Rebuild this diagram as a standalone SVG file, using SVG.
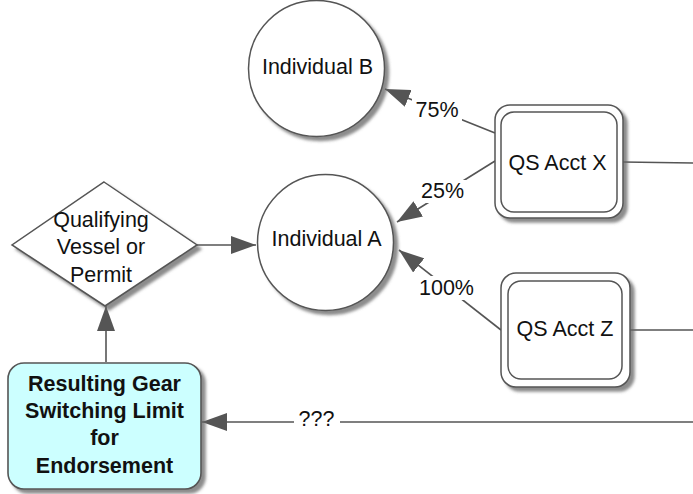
<svg xmlns="http://www.w3.org/2000/svg" width="693" height="494" viewBox="0 0 693 494">
  <style>
    .node { fill: #ffffff; stroke: #555555; stroke-width: 1.5; }
    .txt { font-family: "Liberation Sans", Arial, sans-serif; font-size: 21.5px; fill: #111111; text-anchor: middle; }
    .btxt { font-family: "Liberation Sans", Arial, sans-serif; font-size: 21.5px; font-weight: bold; fill: #111111; text-anchor: middle; }
    .edge { fill: none; stroke: #555555; stroke-width: 1.6; }
    .lblbg { fill: #ffffff; }
  </style>
  <defs>
    <filter id="shadow" x="-20%" y="-20%" width="150%" height="150%">
      <feDropShadow dx="4" dy="4" stdDeviation="1.5" flood-color="#666666" flood-opacity="0.75"/>
    </filter>
    <marker id="arrow" markerUnits="userSpaceOnUse" markerWidth="25" markerHeight="18" refX="25" refY="9" orient="auto">
      <path d="M0,0 L25,9 L0,18 Z" fill="#555555"/>
    </marker>
  </defs>
  <rect width="693" height="494" fill="#ffffff"/>

  <g id="connectors">
    <line class="edge" x1="197" y1="245" x2="256" y2="245" marker-end="url(#arrow)"/>
    <line class="edge" x1="106" y1="362" x2="106" y2="306" marker-end="url(#arrow)"/>
    <line class="edge" x1="495" y1="133" x2="385" y2="89" marker-end="url(#arrow)"/>
    <line class="edge" x1="495" y1="161" x2="397" y2="222" marker-end="url(#arrow)"/>
    <line class="edge" x1="501" y1="330" x2="399" y2="250" marker-end="url(#arrow)"/>
    <line class="edge" x1="623" y1="162" x2="693" y2="163"/>
    <line class="edge" x1="630" y1="330" x2="693" y2="330"/>
    <line class="edge" x1="693" y1="422" x2="202" y2="422" marker-end="url(#arrow)"/>
    <rect class="lblbg" x="412" y="97" width="50" height="24"/>
    <text class="txt" x="437" y="117">75%</text>
    <rect class="lblbg" x="418" y="180" width="48" height="23"/>
    <text class="txt" x="442.5" y="198">25%</text>
    <rect class="lblbg" x="416" y="276" width="60" height="24"/>
    <text class="txt" x="446.5" y="295">100%</text>
    <rect class="lblbg" x="294" y="408" width="46" height="26"/>
    <text class="txt" x="316.5" y="426">???</text>
  </g>

  <g id="individual-b">
    <circle class="node" cx="316.5" cy="68.5" r="68" filter="url(#shadow)"/>
    <text class="txt" x="317.5" y="74">Individual B</text>
  </g>

  <g id="individual-a">
    <circle class="node" cx="325.5" cy="242.5" r="68" filter="url(#shadow)"/>
    <text class="txt" x="326.5" y="246">Individual A</text>
  </g>

  <g id="qualifying">
    <polygon class="node" points="104,182 197,245 105,306 12,245" filter="url(#shadow)"/>
    <text class="txt" x="101" y="227">Qualifying</text>
    <text class="txt" x="101" y="254">Vessel or</text>
    <text class="txt" x="101" y="282">Permit</text>
  </g>

  <g id="qs-acct-x">
    <rect class="node" x="495" y="105" width="128" height="113" rx="15" ry="15" filter="url(#shadow)"/>
    <rect class="node" x="501" y="112" width="116" height="100" rx="13" ry="13"/>
    <text class="txt" x="557.5" y="170">QS Acct X</text>
  </g>

  <g id="qs-acct-z">
    <rect class="node" x="501" y="273" width="129" height="114" rx="15" ry="15" filter="url(#shadow)"/>
    <rect class="node" x="508" y="281" width="114" height="98" rx="13" ry="13"/>
    <text class="txt" x="565" y="336">QS Acct Z</text>
  </g>

  <g id="resulting-limit">
    <rect x="8" y="363" width="193" height="126" rx="16" ry="16" fill="#ccffff" stroke="#555555" stroke-width="1.6" filter="url(#shadow)"/>
    <text class="btxt" x="104.5" y="391">Resulting Gear</text>
    <text class="btxt" x="104.5" y="418">Switching Limit</text>
    <text class="btxt" x="104.5" y="445">for</text>
    <text class="btxt" x="104.5" y="473">Endorsement</text>
  </g>
</svg>
